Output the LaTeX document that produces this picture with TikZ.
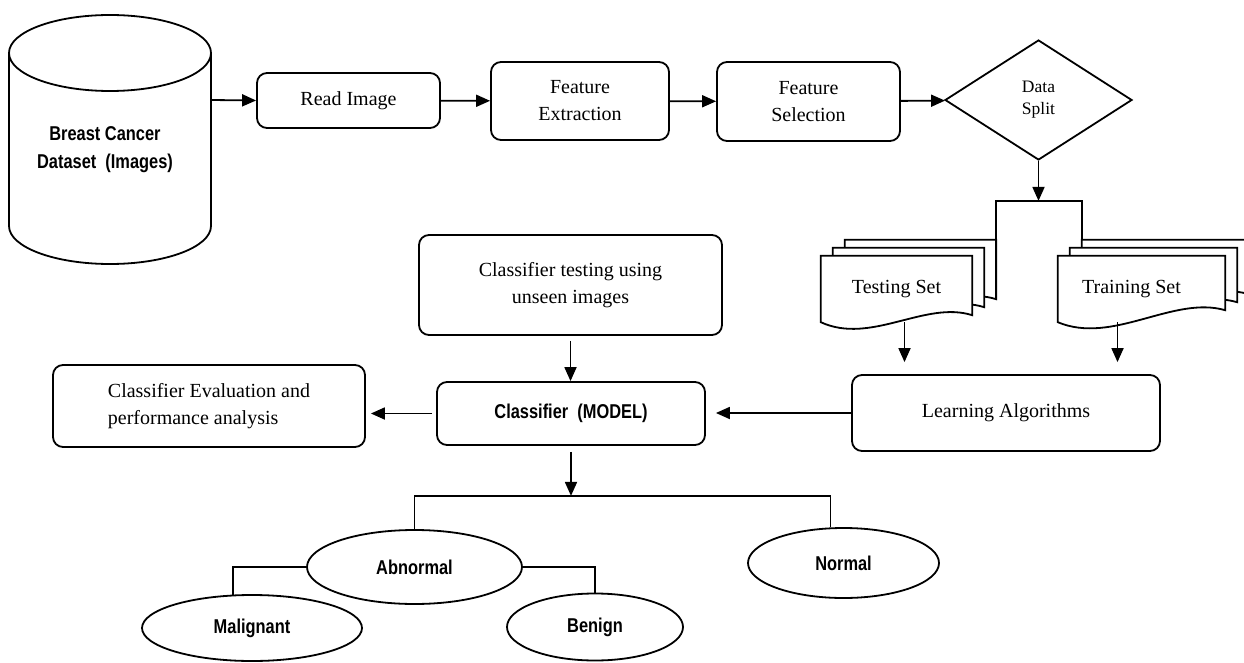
\documentclass[tikz,border=0pt]{standalone}
\usepackage{fontspec}
\setmainfont{Liberation Serif}
\newfontfamily\condsans{Liberation Sans}[FakeStretch=0.82]
\usetikzlibrary{arrows.meta,shapes.geometric}
\pgfdeclarelayer{background}
\pgfsetlayers{background,main}

\tikzset{
  base/.style={line width=1.8pt},
  proc/.style={base, draw, rounded corners=10pt, inner sep=0pt, align=center,
    font=\fontsize{20}{27}\selectfont},
  decision/.style={base, draw, diamond, inner sep=0pt, align=center,
    font=\fontsize{17.5}{22}\selectfont},
  doc/.style={inner sep=0pt, font=\fontsize{20}{24}\selectfont},
  sheet/.style={base, draw, fill=white},
  leaf/.style={base, draw, ellipse, inner sep=0pt,
    font=\condsans\bfseries\fontsize{20}{22}\selectfont},
  arr/.style={base, -{Triangle[length=14pt,width=12pt]}},
  link/.style={base},
}

\begin{document}
\begin{tikzpicture}[x=1pt, y=1pt]
    \useasboundingbox (0,0) rectangle (1244,-663);

    % Dataset cylinder
    \draw[base] (9,-53) -- (9,-226) arc[start angle=180, end angle=360, x radius=101, y radius=38] -- (211,-53);
    \draw[base] (110,-53) ellipse[x radius=101, y radius=38];
    \node[align=center, font=\condsans\bfseries\fontsize{20}{28}\selectfont] (dataset) at (105,-150) {Breast Cancer\\Dataset\ \ (Images)};
    \coordinate (dbport) at (211,-100);

    % Top row
    \node[proc, minimum width=183pt, minimum height=55pt] (read) at (348.5,-100.5) {Read Image};
    \node[proc, minimum width=178pt, minimum height=78pt] (extract) at (580,-101) {Feature\\Extraction};
    \node[proc, minimum width=183pt, minimum height=79pt] (select) at (808.5,-101.5) {Feature\\Selection};
    \node[decision, minimum width=187pt, minimum height=120pt] (split) at (1038.5,-100) {Data\\Split};

    % Data sets
    \node[doc, minimum width=151pt, minimum height=66pt] (testing) at (896.5,-289) {Testing Set};
    \node[doc, minimum width=167pt, minimum height=66pt] (training) at (1141.5,-289) {\hspace*{-20pt}Training Set};
    \begin{pgfonlayer}{background}
      \foreach \s in {24,12,0} {
        \draw[sheet] ([shift={(\s,\s*2/3)}]testing.north west) -- ([shift={(\s,\s*2/3)}]testing.north east)
          -- ([shift={(\s,\s*2/3+7)}]testing.south east) .. controls +(-47,15) and +(50,-23) .. ([shift={(\s,\s*2/3)}]testing.south west) -- cycle;
        \draw[sheet] ([shift={(\s,\s*2/3)}]training.north west) -- ([shift={(\s,\s*2/3)}]training.north east)
          -- ([shift={(\s,\s*2/3+12)}]training.south east) .. controls +(-52,15) and +(55,-23) .. ([shift={(\s,\s*2/3)}]training.south west) -- cycle;
      }
    \end{pgfonlayer}

    % Model part
    \node[proc, minimum width=308pt, minimum height=76pt] (learn) at (1006,-413) {Learning Algorithms};
    \node[proc, minimum width=268pt, minimum height=63pt, font=\condsans\bfseries\fontsize{20}{22}\selectfont] (model) at (571,-413.5) {Classifier\ \ (MODEL)};
    \node[proc, minimum width=303pt, minimum height=100pt] (test) at (570.5,-285) {Classifier testing using\\unseen images};
    \node[proc, minimum width=312pt, minimum height=82pt, align=left] (eval) at (209,-406) {Classifier Evaluation and\\performance analysis};

    % Outcomes
    \node[leaf, minimum width=215pt, minimum height=74pt] (abnormal) at (414.5,-567) {Abnormal};
    \node[leaf, minimum width=191pt, minimum height=70pt] (normal) at (843.5,-563) {Normal};
    \node[leaf, minimum width=220pt, minimum height=66pt] (malignant) at (252,-628) {Malignant};
    \node[leaf, minimum width=176pt, minimum height=67pt] (benign) at (595,-627) {Benign};

    % Connectors
    \draw[arr] (dbport) -- (read.west);
    \draw[arr] (read) -- (extract);
    \draw[arr] (extract) -- (select);
    \draw[arr] (select) -- (split);
    \draw[arr] (split.south) -- ++(0,-40) coordinate (fork);
    \draw[link] ([shift={(24,23)}]testing.south east) |- (fork) -| ([shift={(24,16)}]training.north west);
    \draw[arr, shorten >=12pt] ([xshift=8pt]testing.south) -- ([xshift=8pt]testing.south |- learn.north);
    \draw[arr, shorten >=12pt] ([xshift=-24pt]training.south) -- ([xshift=-24pt]training.south |- learn.north);
    \draw[arr, shorten >=10pt] (learn.west) -- (learn.west -| model.east);
    \draw[arr, shorten <=5pt] (test.south) -- (test.south |- model.north);
    \draw[arr, shorten <=4pt, shorten >=5pt] (model.west) -- (model.west -| eval.east);
    \draw[arr, shorten <=6pt] (model.south) -- ++(0,-50) coordinate (branch);
    \draw[link] (abnormal.north) |- (branch) -| (normal.110);
    \draw[link] (abnormal.west) -| (malignant.120);
    \draw[link] (abnormal.east) -| (benign.north);
\end{tikzpicture}
\end{document}
